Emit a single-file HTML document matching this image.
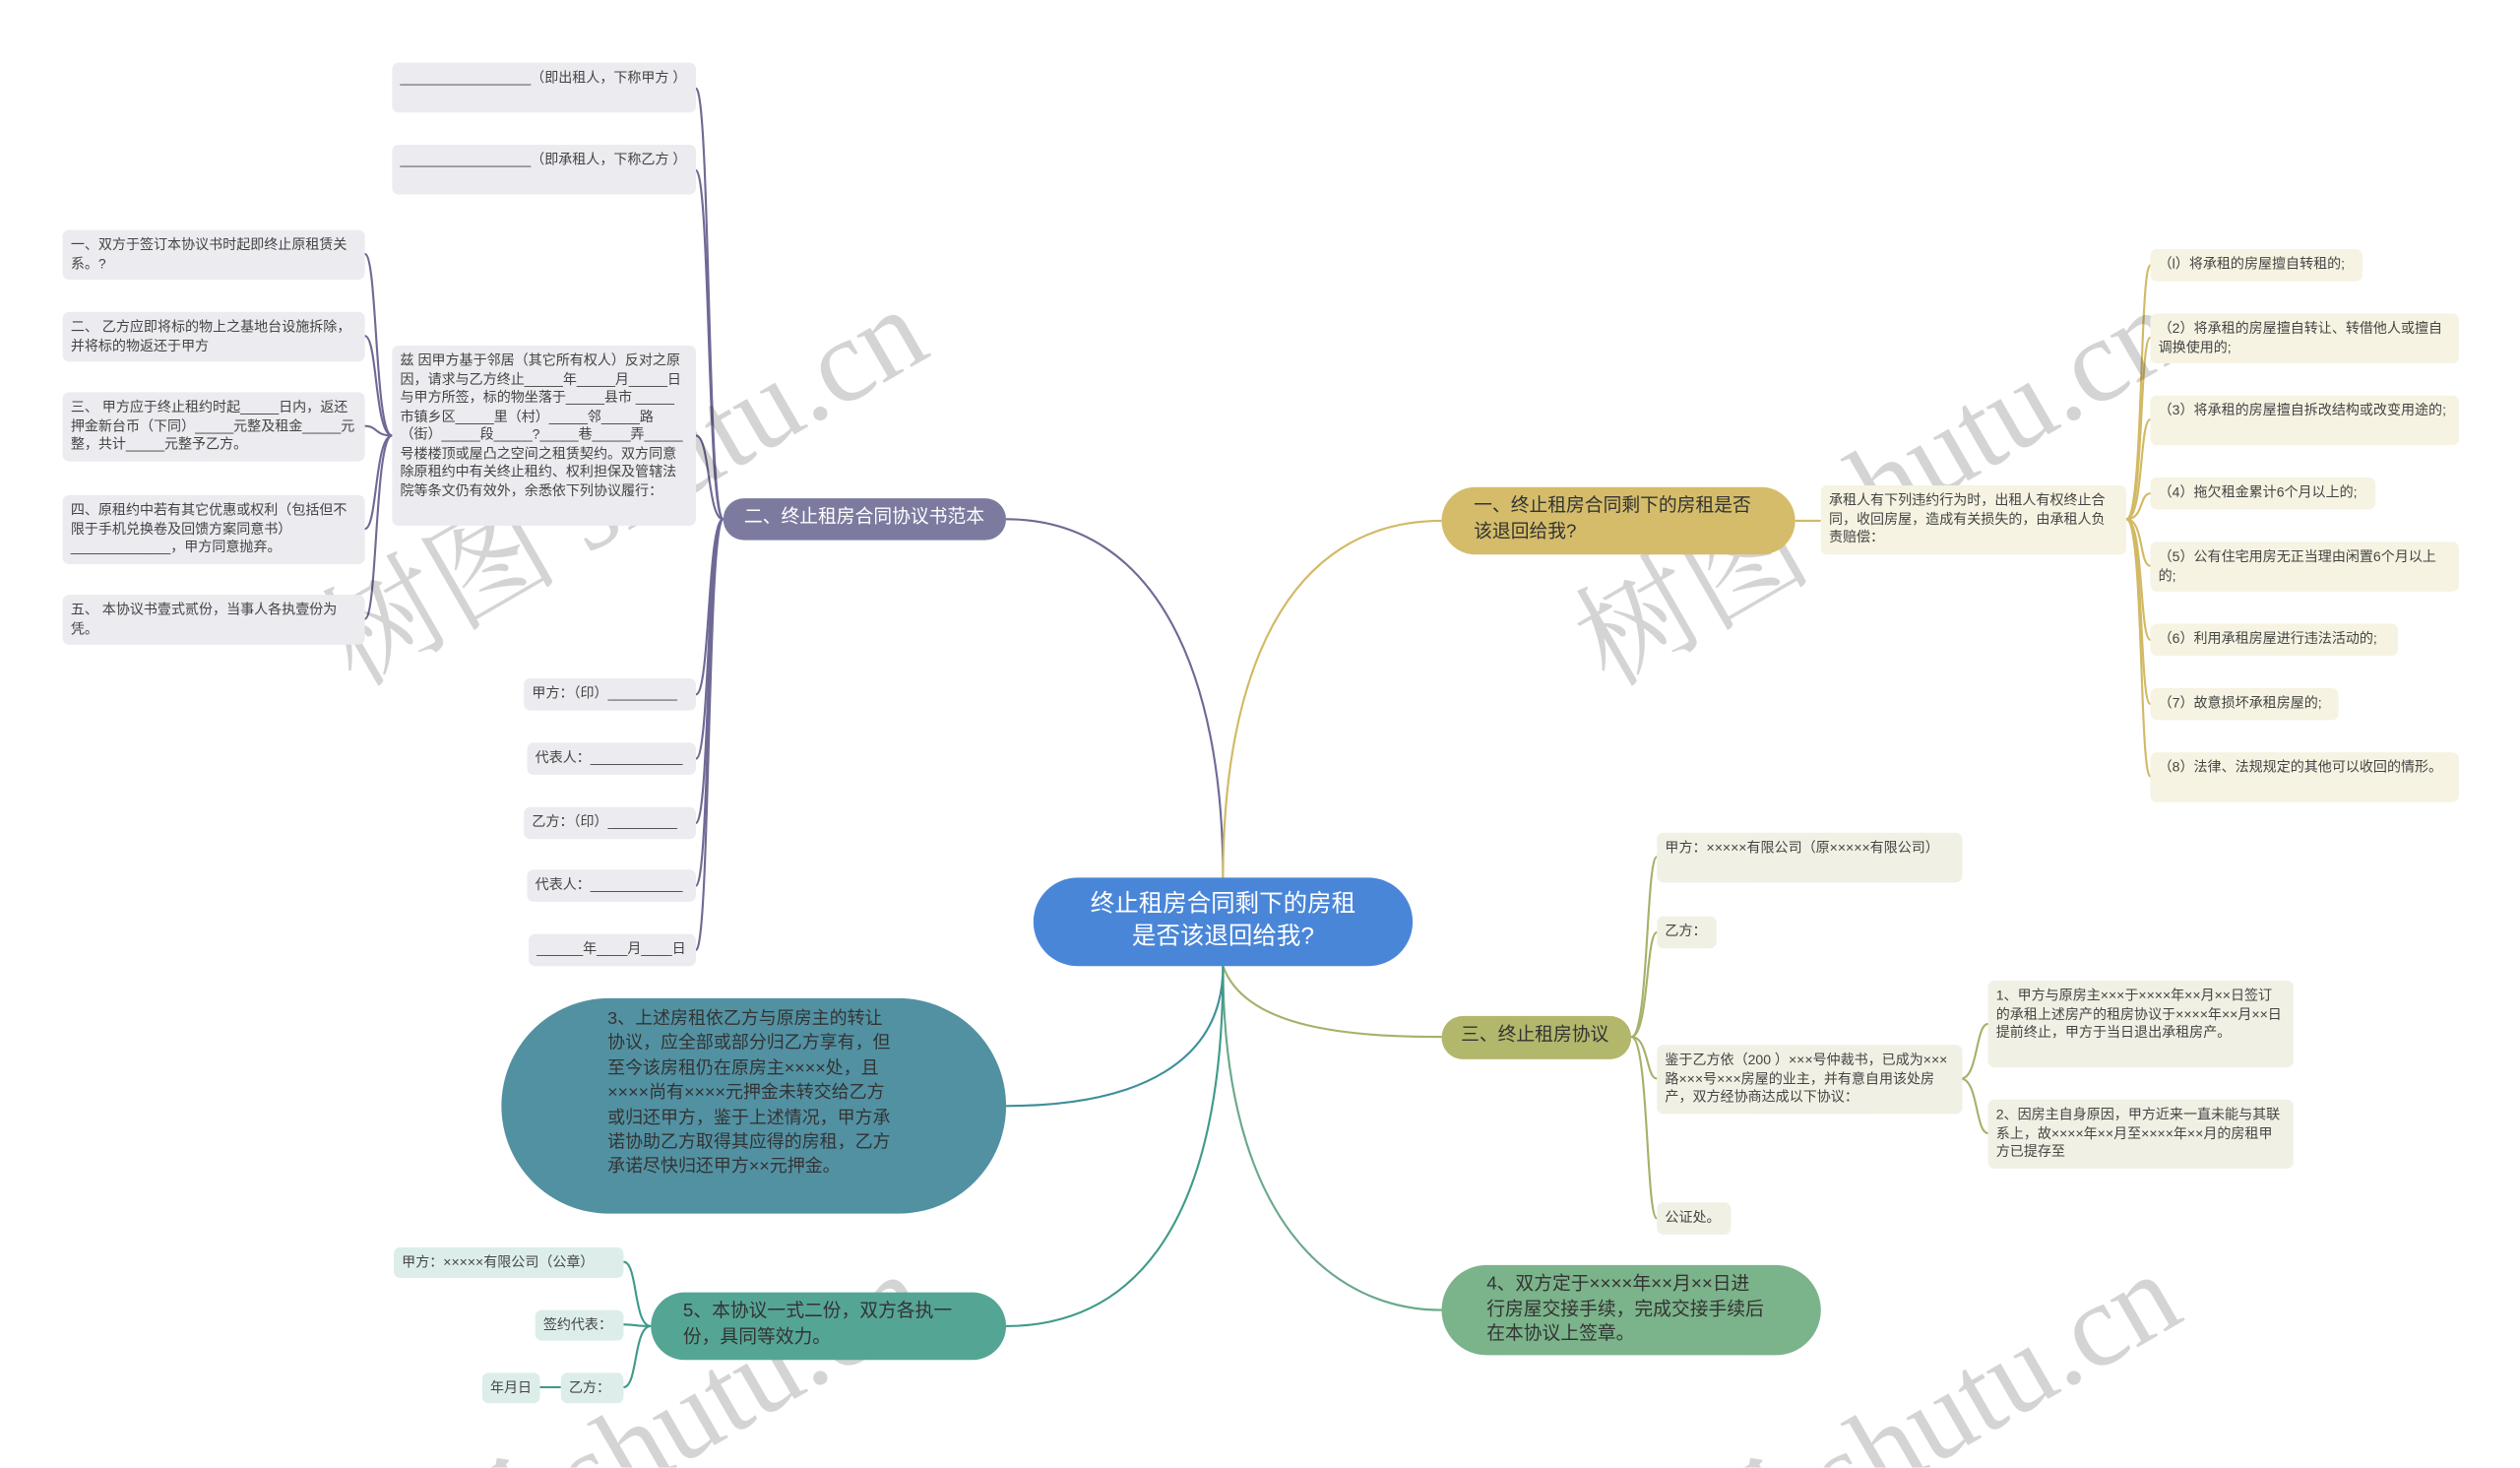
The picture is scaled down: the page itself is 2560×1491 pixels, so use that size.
<!DOCTYPE html>
<html><head><meta charset="utf-8">
<style>
html,body{margin:0;padding:0;background:#fff;overflow:hidden;}
body{width:2560px;height:1491px;overflow:hidden;position:relative;}
#w{position:absolute;left:0;top:0;width:1568px;height:913px;overflow:hidden;transform:scale(1.63265);transform-origin:0 0;font-family:"Liberation Sans","Noto Sans CJK SC",sans-serif;}
.b{position:absolute;box-sizing:border-box;font-size:8.6px;line-height:11.5px;color:#444;padding:4px 5px;border-radius:4px;white-space:pre-wrap;overflow:hidden;}
.p{background:#ebebf0;}
.g{background:#f6f3e2;}
.o{background:#f0f0e4;}
.t{background:#ddeeea;}
.n{position:absolute;box-sizing:border-box;border-radius:40px;color:#333;font-size:11.5px;line-height:15.5px;}
svg{position:absolute;left:0;top:0;}
#wmc{position:absolute;left:0;top:0;width:1568px;height:913px;overflow:hidden;}
.wm{position:absolute;font-family:"Liberation Serif","Noto Serif CJK SC",serif;font-size:74px;line-height:85px;color:rgba(0,0,0,0.17);transform:rotate(-30deg);white-space:nowrap;transform-origin:0 0;}
</style></head><body><div id="w">
<svg width="1568" height="913" fill="none" stroke-width="1.3">
<g stroke="#6e6a95">
<path d="M761,546 C761,420 720,323 626,323"/>
<path d="M450,323 C440,323 442,55 433,55"/>
<path d="M450,323 C440,323 442,106 433,106"/>
<path d="M450,323 C440,323 442,271 433,271"/>
<path d="M450,323 C440,323 442,432 433,432"/>
<path d="M450,323 C440,323 442,472 433,472"/>
<path d="M450,323 C440,323 442,512 433,512"/>
<path d="M450,323 C440,323 442,551 433,551"/>
<path d="M450,323 C440,323 442,591 433,591"/>
<path d="M244,271 C233,271 235,158 227,158"/>
<path d="M244,271 C233,271 235,209 227,209"/>
<path d="M244,271 C233,271 235,265 227,265"/>
<path d="M244,271 C233,271 235,329 227,329"/>
<path d="M244,271 C233,271 235,385 227,385"/>
</g>
<g stroke="#d2b964">
<path d="M761,546 C761,420 800,324 897,324"/>
<path d="M1117,324 L1133,324"/>
<path d="M1323,323 C1334,323 1331,165 1338,165"/>
<path d="M1323,323 C1334,323 1331,210 1338,210"/>
<path d="M1323,323 C1334,323 1331,261 1338,261"/>
<path d="M1323,323 C1334,323 1331,307 1338,307"/>
<path d="M1323,323 C1334,323 1331,352 1338,352"/>
<path d="M1323,323 C1334,323 1331,398 1338,398"/>
<path d="M1323,323 C1334,323 1331,438 1338,438"/>
<path d="M1323,323 C1334,323 1331,483 1338,483"/>
</g>
<g stroke="#a8b06a">
<path d="M761,601 C775,640 840,645 897,645"/>
<path d="M1015,645 C1026,645 1024,533 1031,533"/>
<path d="M1015,645 C1026,645 1024,580 1031,580"/>
<path d="M1015,645 C1026,645 1024,671 1031,671"/>
<path d="M1015,645 C1026,645 1024,758 1031,758"/>
<path d="M1220,671 C1231,671 1229,637 1237,637"/>
<path d="M1220,671 C1231,671 1229,705 1237,705"/>
</g>
<path stroke="#6aa88a" d="M761,601 C761,760 830,815 897,815"/>
<path stroke="#3f8f9a" d="M761,601 C761,660 710,688 626,688"/>
<g stroke="#3f9a8a">
<path d="M761,601 C761,770 700,825 626,825"/>
<path d="M405,825 C394,825 397,785 388,785"/>
<path d="M405,825 C394,825 397,824 388,824"/>
<path d="M405,825 C394,825 397,863 388,863"/>
<path d="M334,863 L349,863"/>
</g>
</svg>

<div id="wmc">
<div class="wm" style="left:188px;top:371px;">树图 shutu.cn</div>
<div class="wm" style="left:968px;top:371px;">树图 shutu.cn</div>
<div class="wm" style="left:188px;top:971px;">树图 shutu.cn</div>
<div class="wm" style="left:968px;top:971px;">树图 shutu.cn</div>
</div>

<!-- root -->
<div class="n" style="left:643px;top:546px;width:236px;height:55px;background:#4a86d8;color:#fff;font-size:15px;line-height:20px;text-align:center;padding-top:7px;">终止租房合同剩下的房租<br>是否该退回给我?</div>

<!-- branch 一 -->
<div class="n" style="left:897px;top:303px;width:220px;height:42px;background:#d4bc6a;padding:5px 0 0 20px;">一、终止租房合同剩下的房租是否<br>该退回给我?</div>
<div class="b g" style="left:1133px;top:302px;width:190px;height:43px;">承租人有下列违约行为时，出租人有权终止合同，收回房屋，造成有关损失的，由承租人负责赔偿：</div>
<div class="b g" style="left:1338px;top:155px;width:132px;height:20px;">（l）将承租的房屋擅自转租的;</div>
<div class="b g" style="left:1338px;top:195px;width:192px;height:31px;">（2）将承租的房屋擅自转让、转借他人或擅自调换使用的;</div>
<div class="b g" style="left:1338px;top:246px;width:192px;height:31px;">（3）将承租的房屋擅自拆改结构或改变用途的;</div>
<div class="b g" style="left:1338px;top:297px;width:140px;height:20px;">（4）拖欠租金累计6个月以上的;</div>
<div class="b g" style="left:1338px;top:337px;width:192px;height:31px;">（5）公有住宅用房无正当理由闲置6个月以上的;</div>
<div class="b g" style="left:1338px;top:388px;width:154px;height:20px;">（6）利用承租房屋进行违法活动的;</div>
<div class="b g" style="left:1338px;top:428px;width:117px;height:20px;">（7）故意损坏承租房屋的;</div>
<div class="b g" style="left:1338px;top:468px;width:192px;height:31px;">（8）法律、法规规定的其他可以收回的情形。</div>

<!-- branch 三 -->
<div class="n" style="left:897px;top:632px;width:118px;height:27px;background:#b3b76c;padding:5px 0 0 12px;">三、终止租房协议</div>
<div class="b o" style="left:1031px;top:518px;width:190px;height:31px;">甲方：×××××有限公司（原×××××有限公司）</div>
<div class="b o" style="left:1031px;top:570px;width:37px;height:20px;">乙方：</div>
<div class="b o" style="left:1031px;top:650px;width:190px;height:43px;">鉴于乙方依（200 ）×××号仲裁书，已成为×××路×××号×××房屋的业主，并有意自用该处房产，双方经协商达成以下协议：</div>
<div class="b o" style="left:1031px;top:748px;width:46px;height:20px;">公证处。</div>
<div class="b o" style="left:1237px;top:610px;width:190px;height:54px;">1、甲方与原房主×××于××××年××月××日签订的承租上述房产的租房协议于××××年××月××日提前终止，甲方于当日退出承租房产。</div>
<div class="b o" style="left:1237px;top:684px;width:190px;height:43px;">2、因房主自身原因，甲方近来一直未能与其联系上，故××××年××月至××××年××月的房租甲方已提存至</div>

<!-- branch 4 -->
<div class="n" style="left:897px;top:787px;width:236px;height:56px;background:#7bb38a;padding:5px 0 0 28px;">4、双方定于××××年××月××日进<br>行房屋交接手续，完成交接手续后<br>在本协议上签章。</div>

<!-- branch 二 -->
<div class="n" style="left:450px;top:310px;width:176px;height:26px;background:#7c7b9f;color:#fff;padding:5px 0 0 13px;">二、终止租房合同协议书范本</div>
<div class="b p" style="left:244px;top:39px;width:189px;height:31px;">_________________（即出租人，下称甲方 ）</div>
<div class="b p" style="left:244px;top:90px;width:189px;height:31px;">_________________（即承租人，下称乙方 ）</div>
<div class="b p" style="left:244px;top:215px;width:189px;height:112px;">兹 因甲方基于邻居（其它所有权人）反对之原因，请求与乙方终止_____年_____月_____日与甲方所签，标的物坐落于_____县市 _____市镇乡区_____里（村）_____邻_____路（街）_____段_____?_____巷_____弄_____号楼楼顶或屋凸之空间之租赁契约。双方同意除原租约中有关终止租约、权利担保及管辖法院等条文仍有效外，余悉依下列协议履行：</div>
<div class="b p" style="left:326px;top:422px;width:107px;height:20px;">甲方：（印）_________</div>
<div class="b p" style="left:328px;top:462px;width:105px;height:20px;">代表人：____________</div>
<div class="b p" style="left:326px;top:502px;width:107px;height:20px;">乙方：（印）_________</div>
<div class="b p" style="left:328px;top:541px;width:105px;height:20px;">代表人：____________</div>
<div class="b p" style="left:329px;top:581px;width:104px;height:20px;">______年____月____日</div>
<div class="b p" style="left:39px;top:143px;width:188px;height:31px;">一、双方于签订本协议书时起即终止原租赁关系。?</div>
<div class="b p" style="left:39px;top:194px;width:188px;height:31px;">二、 乙方应即将标的物上之基地台设施拆除，并将标的物返还于甲方</div>
<div class="b p" style="left:39px;top:244px;width:188px;height:43px;">三、 甲方应于终止租约时起_____日内，返还押金新台币（下同）_____元整及租金_____元整，共计_____元整予乙方。</div>
<div class="b p" style="left:39px;top:308px;width:188px;height:43px;">四、原租约中若有其它优惠或权利（包括但不限于手机兑换卷及回馈方案同意书）_____________，甲方同意抛弃。</div>
<div class="b p" style="left:39px;top:370px;width:188px;height:31px;">五、 本协议书壹式贰份，当事人各执壹份为凭。</div>

<!-- branch 3 -->
<div class="n" style="left:312px;top:621px;width:314px;height:134px;border-radius:67px;background:#5291a2;"><div style="position:absolute;left:66px;top:6px;width:182px;font-size:11px;line-height:15.4px;">3、上述房租依乙方与原房主的转让协议，应全部或部分归乙方享有，但至今该房租仍在原房主××××处，且××××尚有××××元押金未转交给乙方或归还甲方，鉴于上述情况，甲方承诺协助乙方取得其应得的房租，乙方承诺尽快归还甲方××元押金。</div></div>

<!-- branch 5 -->
<div class="n" style="left:405px;top:804px;width:221px;height:42px;background:#55a595;padding:5px 0 0 20px;">5、本协议一式二份，双方各执一<br>份，具同等效力。</div>
<div class="b t" style="left:245px;top:776px;width:143px;height:19px;">甲方：×××××有限公司（公章）</div>
<div class="b t" style="left:333px;top:815px;width:55px;height:19px;">签约代表：</div>
<div class="b t" style="left:349px;top:854px;width:39px;height:19px;">乙方：</div>
<div class="b t" style="left:300px;top:854px;width:36px;height:19px;white-space:nowrap;">年月日</div>
</div></body></html>
